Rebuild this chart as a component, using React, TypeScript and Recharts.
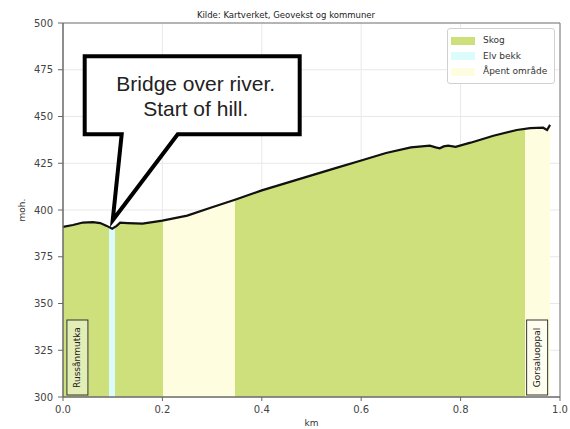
import { AreaChart, Area, XAxis, YAxis, CartesianGrid, Legend, ReferenceDot, ReferenceArea } from "recharts";

// elevation profile
const distanceKm = [
  0.0, 0.02, 0.04, 0.06, 0.075, 0.088, 0.099, 0.108, 0.115, 0.13, 0.16, 0.2, 0.25, 0.3,
  0.346, 0.4, 0.5, 0.55, 0.6, 0.65, 0.7, 0.738, 0.75, 0.758, 0.766, 0.775, 0.79, 0.82,
  0.866, 0.913, 0.94, 0.966, 0.974, 0.98,
];
const heightMoh = [
  391, 392, 393.3, 393.5, 393, 391.5, 390, 391.5, 393.2, 393, 392.7, 394.3, 397, 401.5,
  405.5, 410.5, 418.5, 422.5, 426.5, 430.5, 433.5, 434.4, 433.5, 433, 434, 434.4, 433.8, 436,
  439.7, 442.8, 443.8, 444, 442.8, 445.5,
];

const xTicks = [0, 0.2, 0.4, 0.6, 0.8, 1.0];
const yTicks = [300, 325, 350, 375, 400, 425, 450, 475, 500];

// land cover along the route
const coverNames = ["Skog", "Elv bekk", "Åpent område"];
const coverColors = ["#cde07c", "#dcfcfc", "#fffde0"];
const segmentFrom = [0, 0.092, 0.104, 0.201, 0.346, 0.93];
const segmentTo = [0.092, 0.104, 0.201, 0.346, 0.93, 0.98];
const segmentCover = [0, 1, 0, 2, 0, 2];

const placeNames = ["Russånmutka", "Gorsaluoppal"];
const placeKm = [0.029, 0.954];

const calloutLines = ["Bridge over river.", "Start of hill."];
const calloutKm = 0.1;
const calloutMoh = 394.5;

const title = "Kilde: Kartverket, Geovekst og kommuner";

const profile = distanceKm.map((km, i) => ({ km, moh: heightMoh[i] }));
const xMax = distanceKm[distanceKm.length - 1];

const axisFont = "'DejaVu Sans', sans-serif";

function Callout({ cx, cy }: any) {
  const left = cx - 28;
  const right = cx + 187;
  const top = cy - 164;
  const bottom = cy - 86;
  const d = `M ${left} ${top} H ${right} V ${bottom} H ${cx + 65} L ${cx} ${cy} L ${cx + 9} ${bottom} H ${left} Z`;
  return (
    <g>
      <path d={d} fill="#fff" stroke="#000" strokeWidth={4} strokeLinejoin="miter" />
      {calloutLines.map((t, i) => (
        <text
          key={i}
          x={cx + 83}
          y={cy - 137 + i * 25}
          textAnchor="middle"
          dominantBaseline="central"
          fontFamily="'Liberation Sans', Arial, sans-serif"
          fontSize={21}
          fill="#222"
        >
          {t}
        </text>
      ))}
    </g>
  );
}

function PlaceLabel({ cx, cy, name }: any) {
  const w = 21;
  const h = 75;
  const midY = cy - 2 - h / 2;
  return (
    <g>
      <rect x={cx - w / 2} y={cy - 2 - h} width={w} height={h} fill="#fff" fillOpacity={0.45} stroke="#333" strokeWidth={1} />
      <text
        x={cx}
        y={midY}
        textAnchor="middle"
        dominantBaseline="central"
        transform={`rotate(-90 ${cx} ${midY})`}
        fontFamily={axisFont}
        fontSize={9}
        fill="#222"
      >
        {name}
      </text>
    </g>
  );
}

function CoverLegend() {
  return (
    <div
      style={{
        background: "#fff",
        border: "1px solid #d0d0d0",
        borderRadius: 3,
        padding: "4px 6px 3px 3px",
        fontFamily: axisFont,
        fontSize: 9,
        color: "#333",
        lineHeight: "15.5px",
      }}
    >
      {coverNames.map((n, i) => (
        <div key={n} style={{ display: "flex", alignItems: "center" }}>
          <span style={{ display: "inline-block", width: 24, height: 8, background: coverColors[i], marginRight: 8 }} />
          {n}
        </div>
      ))}
    </div>
  );
}

export default function App() {
  return (
    <div style={{ position: "absolute", left: 0, top: 0, width: 570, height: 429, background: "#fff" }}>
      <div
        style={{
          position: "absolute",
          left: 0,
          width: 572,
          top: 10,
          textAlign: "center",
          fontFamily: axisFont,
          fontSize: 8.5,
          color: "#222",
        }}
      >
        {title}
      </div>
      <AreaChart width={570} height={429} data={profile} margin={{ top: 23, right: 10, bottom: 0, left: 0 }}>
        <defs>
          <linearGradient id="cover" x1="0" y1="0" x2="1" y2="0">
            {segmentFrom.flatMap((from, i) => [
              <stop key={`a${i}`} offset={from / xMax} stopColor={coverColors[segmentCover[i]]} />,
              <stop key={`b${i}`} offset={segmentTo[i] / xMax} stopColor={coverColors[segmentCover[i]]} />,
            ])}
          </linearGradient>
        </defs>
        <CartesianGrid stroke="#e8e8e8" strokeWidth={1} />
        <XAxis
          dataKey="km"
          type="number"
          domain={[0, 1]}
          ticks={xTicks}
          tickFormatter={(v: number) => v.toFixed(1)}
          height={32}
          tickSize={4}
          tickMargin={5}
          stroke="#666"
          tick={{ fontSize: 10, fill: "#444", fontFamily: axisFont }}
          label={{
            value: "km",
            content: ({ viewBox }: any) => (
              <text
                x={viewBox.x + viewBox.width / 2}
                y={viewBox.y + 26}
                textAnchor="middle"
                dominantBaseline="central"
                fontFamily={axisFont}
                fontSize={9}
                fill="#333"
              >
                km
              </text>
            ),
          }}
        />
        <YAxis
          type="number"
          domain={[300, 500]}
          ticks={yTicks}
          allowDataOverflow
          width={63}
          tickSize={5}
          tickMargin={5}
          stroke="#666"
          tick={{ fontSize: 10, fill: "#444", fontFamily: axisFont }}
          label={{
            value: "moh.",
            content: ({ viewBox }: any) => {
              const x = viewBox.x + 22;
              const y = viewBox.y + viewBox.height / 2;
              return (
                <text
                  x={x}
                  y={y}
                  textAnchor="middle"
                  dominantBaseline="central"
                  transform={`rotate(-90 ${x} ${y})`}
                  fontFamily={axisFont}
                  fontSize={9}
                  fill="#333"
                >
                  moh.
                </text>
              );
            },
          }}
        />
        <Area
          type="linear"
          dataKey="moh"
          stroke="#111"
          strokeWidth={2.2}
          fill="url(#cover)"
          fillOpacity={1}
          baseValue={300}
          isAnimationActive={false}
          dot={false}
          activeDot={false}
        />
        <ReferenceArea x1={0} x2={1} y1={300} y2={500} fill="none" stroke="#777" strokeWidth={1} />
        {placeNames.map((name, i) => (
          <ReferenceDot
            key={name}
            x={placeKm[i]}
            y={300}
            r={0}
            shape={(p: any) => <PlaceLabel cx={p.cx} cy={p.cy} name={name} />}
          />
        ))}
        <ReferenceDot x={calloutKm} y={calloutMoh} r={0} shape={(p: any) => <Callout cx={p.cx} cy={p.cy} />} />
        <Legend
          layout="horizontal"
          verticalAlign="middle"
          align="center"
          content={() => <CoverLegend />}
          wrapperStyle={{ position: "absolute", left: 447, top: 28, width: 108, height: "auto", margin: 0 }}
        />
      </AreaChart>
    </div>
  );
}
